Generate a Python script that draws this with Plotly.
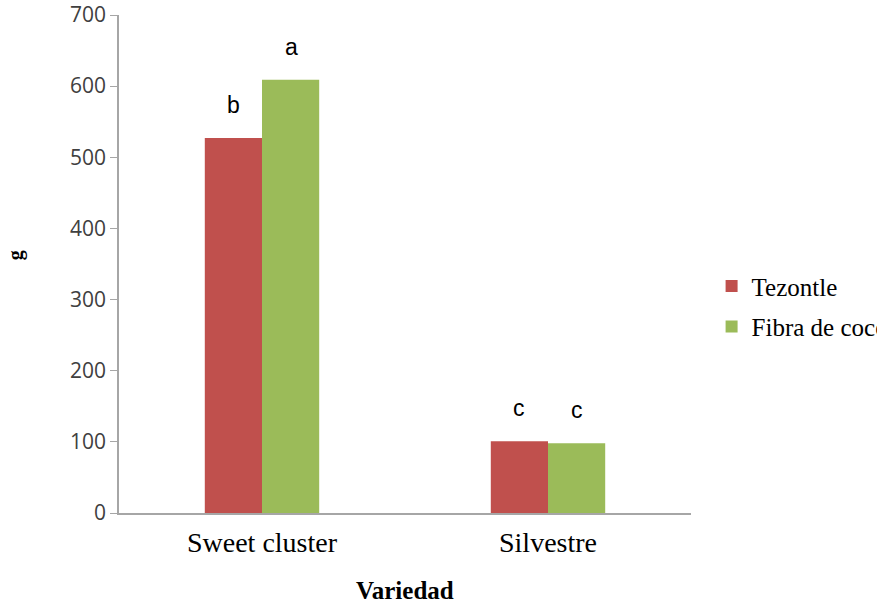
import plotly.graph_objects as go

categories = ["Sweet cluster", "Silvestre"]
tezontle = [527, 101]
fibra = [609, 98]
letters_tez = ["b", "c"]
letters_fib = ["a", "c"]
y_ticks = [0, 100, 200, 300, 400, 500, 600, 700]

red = "#c0504d"
green = "#9bbb59"

fig = go.Figure()
fig.add_trace(go.Bar(name="Tezontle", x=categories, y=tezontle, marker_color=red,
                     marker_line_width=0, legendgroup="t"))
fig.add_trace(go.Bar(name="Fibra de coco", x=categories, y=fibra, marker_color=green,
                     marker_line_width=0, legendgroup="f"))

for cat, v, t in zip(categories, tezontle, letters_tez):
    fig.add_annotation(x=cat, y=v, text=t, showarrow=False, xshift=-29, yshift=18,
                       yanchor="bottom", font=dict(family="Liberation Sans", size=23, color="#000"))
for cat, v, t in zip(categories, fibra, letters_fib):
    fig.add_annotation(x=cat, y=v, text=t, showarrow=False, xshift=29, yshift=18,
                       yanchor="bottom", font=dict(family="Liberation Sans", size=23, color="#000"))

fig.add_annotation(xref="paper", yref="paper", x=-0.205, y=0.518, text="<b>g</b>",
                   textangle=-90, showarrow=False,
                   font=dict(family="Liberation Serif", size=20, color="#000"))
fig.add_annotation(xref="paper", yref="paper", x=0.5, y=-0.156, text="<b>Variedad</b>",
                   showarrow=False, yanchor="middle",
                   font=dict(family="Liberation Serif", size=25, color="#000"))

fig.update_layout(
    width=877, height=603,
    margin=dict(l=119, r=186, t=15, b=90, autoexpand=False),
    paper_bgcolor="white", plot_bgcolor="white",
    barmode="group", bargap=0.6, bargroupgap=0,
    showlegend=True,
    legend=dict(x=1.036, y=0.415, xanchor="left", yanchor="middle",
                font=dict(family="Liberation Serif", size=25, color="#000"),
                bgcolor="rgba(0,0,0,0)", itemwidth=30, traceorder="grouped",
                tracegroupgap=5),
    xaxis=dict(showline=True, linecolor="#a6a6a6", linewidth=1.5, ticks="",
               ticklabelstandoff=4, automargin=False,
               tickfont=dict(family="Liberation Serif", size=28, color="#000")),
    yaxis=dict(range=[0, 700], tickvals=y_ticks, showgrid=False, zeroline=False,
               showline=True, linecolor="#a6a6a6", linewidth=1.5, automargin=False,
               ticks="outside", ticklen=7, tickcolor="#a6a6a6",
               ticklabeloverflow="allow",
               tickfont=dict(family="Open Sans", size=21, color="#404040")),
)

fig.write_html("out.html", config={"displayModeBar": False},
               post_script="document.body.style.margin='0';")
